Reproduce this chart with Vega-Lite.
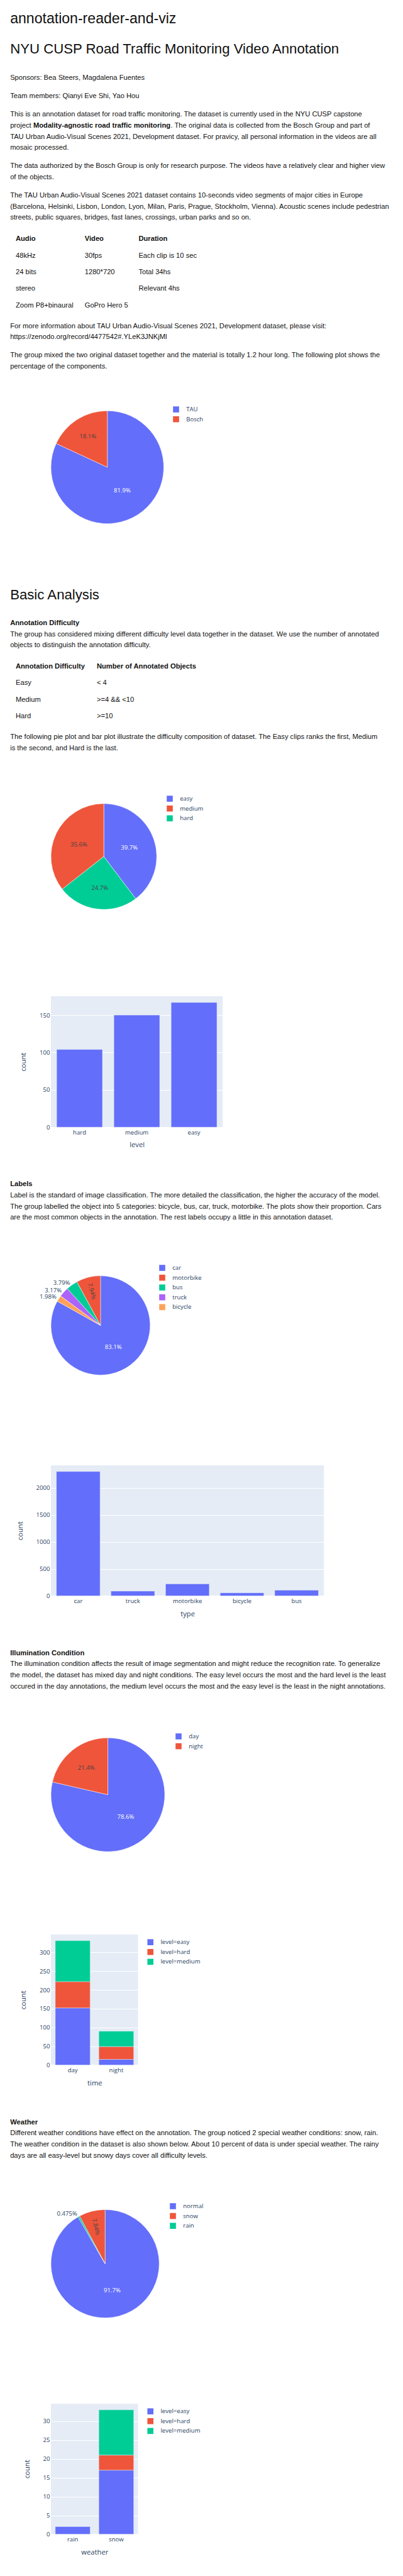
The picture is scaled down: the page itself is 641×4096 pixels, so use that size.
{
"$schema": "https://vega.github.io/schema/vega-lite/v6.json",
"background": "#ffffff",
"padding": {"left": 16.02, "top": 0, "right": 0, "bottom": 0},
"spacing": 0,
"bounds": "flush",
"resolve": {"scale": {"color": "independent", "theta": "independent"}, "legend": {"color": "independent"}},
"config": {
 "view": {"stroke": null},
 "text": {"font": "Liberation Sans", "fontSize": 11.21, "align": "left", "baseline": "alphabetic", "color": "#111111"},
 "axis": {"labelFont": "Open Sans", "labelFontSize": 9.6, "labelColor": "#2a3f5f", "titleFont": "Open Sans", "titleFontSize": 11.2, "titleColor": "#2a3f5f", "titleFontWeight": "normal", "domain": false, "ticks": false, "gridColor": "#ffffff", "gridWidth": 1},
 "legend": {"labelFont": "Open Sans", "labelFontSize": 9.6, "labelColor": "#2a3f5f", "symbolType": "square", "symbolSize": 92, "symbolStrokeWidth": 0, "rowPadding": 5.6, "labelOffset": 11.2, "padding": 0}
},
"vconcat": [
{"width": 540, "height": 111.34,
 "data": {"values": [{"i": 0, "t": "annotation-reader-and-viz"}, {"i": 1, "t": "NYU CUSP Road Traffic Monitoring Video Annotation"}]},
 "encoding": {"y": {"field": "i", "type": "quantitative", "scale": {"domain": [-0.74918, 1.52951], "nice": false, "zero": false, "reverse": true}, "axis": null}},
 "layer": [
  {"transform": [{"filter": "datum.i === 0"}], "mark": {"type": "text", "fontSize": 23.1}, "encoding": {"x": {"datum": -64.88, "type": "quantitative", "scale": {"domain": [0, 540], "nice": false, "zero": false}, "axis": null}, "text": {"field": "t"}}},
  {"transform": [{"filter": "datum.i === 1"}], "mark": {"type": "text", "fontSize": 22.2}, "encoding": {"x": {"datum": -64.88, "type": "quantitative", "scale": {"domain": [0, 540], "nice": false, "zero": false}, "axis": null}, "text": {"field": "t"}}},
  {"data": {"values": [{}]}, "mark": {"type": "rule", "color": "#111111"}, "encoding": {"x": {"datum": -64.88, "type": "quantitative", "scale": {"domain": [0, 540], "nice": false, "zero": false}, "axis": null}, "x2": {"datum": 547.08}, "y": {"datum": 0.23934, "type": "quantitative", "scale": {"domain": [-0.74918, 1.52951], "nice": false, "zero": false, "reverse": true}, "axis": null}}},
  {"data": {"values": [{}]}, "mark": {"type": "rule", "color": "#111111"}, "encoding": {"x": {"datum": -64.88, "type": "quantitative", "scale": {"domain": [0, 540], "nice": false, "zero": false}, "axis": null}, "x2": {"datum": 547.08}, "y": {"datum": 1.23934, "type": "quantitative", "scale": {"domain": [-0.74918, 1.52951], "nice": false, "zero": false, "reverse": true}, "axis": null}}}
 ]},
{"width": 540, "height": 28.84,
 "data": {"values": [{"i": 0, "t": "Sponsors: Bea Steers, Magdalena Fuentes"}]},
 "mark": "text",
 "encoding": {"x": {"datum": -64.88, "type": "quantitative", "scale": {"domain": [0, 540], "nice": false, "zero": false}, "axis": null}, "y": {"field": "i", "type": "quantitative", "scale": {"domain": [-0.83182, 0.80454], "nice": false, "zero": false, "reverse": true}, "axis": null}, "text": {"field": "t"}}},
{"width": 540, "height": 28.04,
 "data": {"values": [{"i": 0, "t": "Team members: Qianyi Eve Shi, Yao Hou"}]},
 "mark": "text",
 "encoding": {"x": {"datum": -64.88, "type": "quantitative", "scale": {"domain": [0, 540], "nice": false, "zero": false}, "axis": null}, "y": {"field": "i", "type": "quantitative", "scale": {"domain": [-0.83182, 0.75909], "nice": false, "zero": false, "reverse": true}, "axis": null}, "text": {"field": "t"}}},
{"width": 540, "height": 81.70,
 "encoding": {"y": {"field": "i", "type": "quantitative", "scale": {"domain": [-0.85973, 3.75565], "nice": false, "zero": false, "reverse": true}, "axis": null}, "text": {"field": "t"}},
 "layer": [
  {"data": {"values": [{"i": 0, "t": "This is an annotation dataset for road traffic monitoring. The dataset is currently used in the NYU CUSP capstone"}, {"i": 1, "t": "project"}, {"i": 2, "t": "TAU Urban Audio-Visual Scenes 2021, Development dataset. For pravicy, all personal information in the videos are all"}, {"i": 3, "t": "mosaic processed."}]},
   "mark": "text", "encoding": {"x": {"datum": -64.88, "type": "quantitative", "scale": {"domain": [0, 540], "nice": false, "zero": false}, "axis": null}}},
  {"data": {"values": [{"i": 1, "t": "Modality-agnostic road traffic monitoring"}]},
   "mark": {"type": "text", "fontWeight": "bold"}, "encoding": {"x": {"datum": -28.12, "type": "quantitative", "scale": {"domain": [0, 540], "nice": false, "zero": false}, "axis": null}}},
  {"data": {"values": [{"i": 1, "t": ". The original data is collected from the Bosch Group and part of"}]},
   "mark": "text", "encoding": {"x": {"datum": 190.5, "type": "quantitative", "scale": {"domain": [0, 540], "nice": false, "zero": false}, "axis": null}}}
 ]},
{"width": 540, "height": 46.46,
 "data": {"values": [{"i": 0, "t": "The data authorized by the Bosch Group is only for research purpose. The videos have a relatively clear and higher view"}, {"i": 1, "t": "of the objects."}]},
 "mark": "text",
 "encoding": {"x": {"datum": -64.88, "type": "quantitative", "scale": {"domain": [0, 540], "nice": false, "zero": false}, "axis": null}, "y": {"field": "i", "type": "quantitative", "scale": {"domain": [-0.87558, 1.79723], "nice": false, "zero": false, "reverse": true}, "axis": null}, "text": {"field": "t"}}},
{"width": 540, "height": 66.48,
 "data": {"values": [{"i": 0, "t": "The TAU Urban Audio-Visual Scenes 2021 dataset contains 10-seconds video segments of major cities in Europe"}, {"i": 1, "t": "(Barcelona, Helsinki, Lisbon, London, Lyon, Milan, Paris, Prague, Stockholm, Vienna). Acoustic scenes include pedestrian"}, {"i": 2, "t": "streets, public squares, bridges, fast lanes, crossings, urban parks and so on."}]},
 "mark": "text",
 "encoding": {"x": {"datum": -64.88, "type": "quantitative", "scale": {"domain": [0, 540], "nice": false, "zero": false}, "axis": null}, "y": {"field": "i", "type": "quantitative", "scale": {"domain": [-0.86957, 2.92906], "nice": false, "zero": false, "reverse": true}, "axis": null}, "text": {"field": "t"}}},
{"width": 540, "height": 140.98,
 "resolve": {"scale": {"x": "independent"}},
 "data": {"values": [
  {"r": 0, "c": 0, "t": "Audio"}, {"r": 0, "c": 1, "t": "Video"}, {"r": 0, "c": 2, "t": "Duration"},
  {"r": 1, "c": 0, "t": "48kHz"}, {"r": 1, "c": 1, "t": "30fps"}, {"r": 1, "c": 2, "t": "Each clip is 10 sec"},
  {"r": 2, "c": 0, "t": "24 bits"}, {"r": 2, "c": 1, "t": "1280*720"}, {"r": 2, "c": 2, "t": "Total 34hs"},
  {"r": 3, "c": 0, "t": "stereo"}, {"r": 3, "c": 2, "t": "Relevant 4hs"},
  {"r": 4, "c": 0, "t": "Zoom P8+binaural"}, {"r": 4, "c": 1, "t": "GoPro Hero 5"}]},
 "encoding": {"y": {"field": "r", "type": "quantitative", "scale": {"domain": [-0.64545, 4.68788], "nice": false, "zero": false, "reverse": true}, "axis": null}},
 "layer": [
  {"transform": [{"filter": "datum.r === 0"}], "mark": {"type": "text", "fontWeight": "bold"},
   "encoding": {"x": {"field": "c", "type": "quantitative", "scale": {"domain": [0, 1, 2], "range": [-56.07, 53.67, 139.38], "nice": false, "zero": false}, "axis": null}, "text": {"field": "t"}}},
  {"transform": [{"filter": "datum.r > 0"}], "mark": "text",
   "encoding": {"x": {"field": "c", "type": "quantitative", "scale": {"domain": [0, 1, 2], "range": [-56.07, 53.67, 139.38], "nice": false, "zero": false}, "axis": null}, "text": {"field": "t"}}},
  {"data": {"values": [{}]}, "mark": {"type": "rule", "color": "#111111"}, "encoding": {"x": {"datum": -64.88, "type": "quantitative", "scale": {"domain": [0, 540], "nice": false, "zero": false}, "axis": null}, "x2": {"datum": 239.5}, "y": {"datum": 0.3333, "type": "quantitative", "scale": {"domain": [-0.64545, 4.68788], "nice": false, "zero": false, "reverse": true}, "axis": null}}},
  {"data": {"values": [{}]}, "mark": {"type": "rule", "color": "#111111"}, "encoding": {"x": {"datum": -64.88, "type": "quantitative", "scale": {"domain": [0, 540], "nice": false, "zero": false}, "axis": null}, "x2": {"datum": 239.5}, "y": {"datum": 1.3333, "type": "quantitative", "scale": {"domain": [-0.64545, 4.68788], "nice": false, "zero": false, "reverse": true}, "axis": null}}},
  {"data": {"values": [{}]}, "mark": {"type": "rule", "color": "#111111"}, "encoding": {"x": {"datum": -64.88, "type": "quantitative", "scale": {"domain": [0, 540], "nice": false, "zero": false}, "axis": null}, "x2": {"datum": 239.5}, "y": {"datum": 2.3333, "type": "quantitative", "scale": {"domain": [-0.64545, 4.68788], "nice": false, "zero": false, "reverse": true}, "axis": null}}},
  {"data": {"values": [{}]}, "mark": {"type": "rule", "color": "#111111"}, "encoding": {"x": {"datum": -64.88, "type": "quantitative", "scale": {"domain": [0, 540], "nice": false, "zero": false}, "axis": null}, "x2": {"datum": 239.5}, "y": {"datum": 3.3333, "type": "quantitative", "scale": {"domain": [-0.64545, 4.68788], "nice": false, "zero": false, "reverse": true}, "axis": null}}}
 ]},
{"width": 540, "height": 45.66,
 "data": {"values": [{"i": 0, "t": "For more information about TAU Urban Audio-Visual Scenes 2021, Development dataset, please visit:"}, {"i": 1, "t": "https://zenodo.org/record/4477542#.YLeK3JNKjMl"}]},
 "mark": "text",
 "encoding": {"x": {"datum": -64.88, "type": "quantitative", "scale": {"domain": [0, 540], "nice": false, "zero": false}, "axis": null}, "y": {"field": "i", "type": "quantitative", "scale": {"domain": [-0.86175, 1.76498], "nice": false, "zero": false, "reverse": true}, "axis": null}, "text": {"field": "t"}}},
{"width": 540, "height": 92.92,
 "data": {"values": [{"i": 0, "t": "The group mixed the two original dataset together and the material is totally 1.2 hour long. The following plot shows the"}, {"i": 1, "t": "percentage of the components."}]},
 "mark": "text",
 "encoding": {"x": {"datum": -64.88, "type": "quantitative", "scale": {"domain": [0, 540], "nice": false, "zero": false}, "axis": null}, "y": {"field": "i", "type": "quantitative", "scale": {"domain": [-0.8894, 4.45622], "nice": false, "zero": false, "reverse": true}, "axis": null}, "text": {"field": "t"}}},
{"width": 179.42, "height": 193.84,
 "data": {"values": [{"k": "TAU", "v": 0.819, "o": 1}, {"k": "Bosch", "v": 0.181, "o": 2}]},
 "encoding": {"theta": {"field": "v", "type": "quantitative", "stack": true}, "order": {"field": "o", "type": "quantitative"}},
 "layer": [
  {"mark": {"type": "arc", "outerRadius": 89.71, "stroke": "#ffffff", "strokeWidth": 0.5},
   "encoding": {"color": {"field": "k", "type": "nominal", "scale": {"domain": ["TAU", "Bosch"], "range": ["#636efa", "#EF553B"]}, "legend": {"title": null, "orient": "right", "offset": 14.4}}}},
  {"mark": {"type": "text", "radius": 44.0, "font": "Open Sans", "fontSize": 9.6, "align": "center", "baseline": "middle", "color": "#ffffff"},
   "encoding": {"text": {"field": "v", "format": ".3p", "condition": {"test": "datum.k !== 'TAU'", "value": ""}}}},
  {"mark": {"type": "text", "radius": 57.7, "font": "Open Sans", "fontSize": 9.6, "align": "center", "baseline": "middle", "color": "#444444"},
   "encoding": {"text": {"field": "v", "format": ".3p", "condition": {"test": "datum.k !== 'Bosch'", "value": ""}}}}
 ]},
{"width": 10, "height": 88.11, "data": {"values": [{}]}, "mark": "text", "encoding": {"text": {"value": ""}}},
{"width": 540, "height": 49.66,
 "data": {"values": [{"i": 0, "t": "Basic Analysis"}]},
 "encoding": {"y": {"field": "i", "type": "quantitative", "scale": {"domain": [-0.99, 1.07667], "nice": false, "zero": false, "reverse": true}, "axis": null}},
 "layer": [
  {"mark": {"type": "text", "fontSize": 22.2}, "encoding": {"x": {"datum": -64.88, "type": "quantitative", "scale": {"domain": [0, 540], "nice": false, "zero": false}, "axis": null}, "text": {"field": "t"}}},
  {"data": {"values": [{}]}, "mark": {"type": "rule", "color": "#111111"}, "encoding": {"x": {"datum": -64.88, "type": "quantitative", "scale": {"domain": [0, 540], "nice": false, "zero": false}, "axis": null}, "x2": {"datum": 547.08}, "y": {"datum": 0.52, "type": "quantitative", "scale": {"domain": [-0.99, 1.07667], "nice": false, "zero": false, "reverse": true}, "axis": null}}}
 ]},
{"width": 540, "height": 66.48,
 "data": {"values": [{"i": 0, "t": "Annotation Difficulty"}, {"i": 1, "t": "The group has considered mixing different difficulty level data together in the dataset. We use the number of annotated"}, {"i": 2, "t": "objects to distinguish the annotation difficulty."}]},
 "encoding": {"x": {"datum": -64.88, "type": "quantitative", "scale": {"domain": [0, 540], "nice": false, "zero": false}, "axis": null}, "y": {"field": "i", "type": "quantitative", "scale": {"domain": [-0.86041, 2.93822], "nice": false, "zero": false, "reverse": true}, "axis": null}, "text": {"field": "t"}},
 "layer": [
  {"transform": [{"filter": "datum.i === 0"}], "mark": {"type": "text", "fontWeight": "bold"}},
  {"transform": [{"filter": "datum.i > 0"}], "mark": "text"}
 ]},
{"width": 540, "height": 114.54,
 "resolve": {"scale": {"x": "independent"}},
 "data": {"values": [
  {"r": 0, "c": 0, "t": "Annotation Difficulty"}, {"r": 0, "c": 1, "t": "Number of Annotated Objects"},
  {"r": 1, "c": 0, "t": "Easy"}, {"r": 1, "c": 1, "t": "< 4"},
  {"r": 2, "c": 0, "t": "Medium"}, {"r": 2, "c": 1, "t": ">=4 && <10"},
  {"r": 3, "c": 0, "t": "Hard"}, {"r": 3, "c": 1, "t": ">=10"}]},
 "encoding": {"y": {"field": "r", "type": "quantitative", "scale": {"domain": [-0.64545, 3.68788], "nice": false, "zero": false, "reverse": true}, "axis": null}},
 "layer": [
  {"transform": [{"filter": "datum.r === 0"}], "mark": {"type": "text", "fontWeight": "bold"},
   "encoding": {"x": {"field": "c", "type": "quantitative", "scale": {"domain": [0, 1], "range": [-56.07, 72.89], "nice": false, "zero": false}, "axis": null}, "text": {"field": "t"}}},
  {"transform": [{"filter": "datum.r > 0"}], "mark": "text",
   "encoding": {"x": {"field": "c", "type": "quantitative", "scale": {"domain": [0, 1], "range": [-56.07, 72.89], "nice": false, "zero": false}, "axis": null}, "text": {"field": "t"}}},
  {"data": {"values": [{}]}, "mark": {"type": "rule", "color": "#111111"}, "encoding": {"x": {"datum": -64.88, "type": "quantitative", "scale": {"domain": [0, 540], "nice": false, "zero": false}, "axis": null}, "x2": {"datum": 243.51}, "y": {"datum": 0.3333, "type": "quantitative", "scale": {"domain": [-0.64545, 3.68788], "nice": false, "zero": false, "reverse": true}, "axis": null}}},
  {"data": {"values": [{}]}, "mark": {"type": "rule", "color": "#111111"}, "encoding": {"x": {"datum": -64.88, "type": "quantitative", "scale": {"domain": [0, 540], "nice": false, "zero": false}, "axis": null}, "x2": {"datum": 243.51}, "y": {"datum": 1.3333, "type": "quantitative", "scale": {"domain": [-0.64545, 3.68788], "nice": false, "zero": false, "reverse": true}, "axis": null}}},
  {"data": {"values": [{}]}, "mark": {"type": "rule", "color": "#111111"}, "encoding": {"x": {"datum": -64.88, "type": "quantitative", "scale": {"domain": [0, 540], "nice": false, "zero": false}, "axis": null}, "x2": {"datum": 243.51}, "y": {"datum": 2.3333, "type": "quantitative", "scale": {"domain": [-0.64545, 3.68788], "nice": false, "zero": false, "reverse": true}, "axis": null}}}
 ]},
{"width": 540, "height": 103.33,
 "data": {"values": [{"i": 0, "t": "The following pie plot and bar plot illustrate the difficulty composition of dataset. The Easy clips ranks the first, Medium"}, {"i": 1, "t": "is the second, and Hard is the last."}]},
 "mark": "text",
 "encoding": {"x": {"datum": -64.88, "type": "quantitative", "scale": {"domain": [0, 540], "nice": false, "zero": false}, "axis": null}, "y": {"field": "i", "type": "quantitative", "scale": {"domain": [-0.80455, 5.05909], "nice": false, "zero": false, "reverse": true}, "axis": null}, "text": {"field": "t"}}},
{"width": 168.21, "height": 193.84,
 "data": {"values": [{"k": "easy", "v": 0.397, "o": 1}, {"k": "medium", "v": 0.356, "o": 3}, {"k": "hard", "v": 0.247, "o": 2}]},
 "encoding": {"theta": {"field": "v", "type": "quantitative", "stack": true}, "order": {"field": "o", "type": "quantitative"}},
 "layer": [
  {"mark": {"type": "arc", "outerRadius": 84.11, "stroke": "#ffffff", "strokeWidth": 0.5},
   "encoding": {"color": {"field": "k", "type": "nominal", "scale": {"domain": ["easy", "medium", "hard"], "range": ["#636efa", "#EF553B", "#00cc96"]}, "legend": {"title": null, "orient": "right", "offset": 15.2}}}},
  {"mark": {"type": "text", "radius": 42.9, "font": "Open Sans", "fontSize": 9.6, "align": "center", "baseline": "middle", "color": "#ffffff"},
   "encoding": {"text": {"field": "v", "format": ".3p", "condition": {"test": "datum.k !== 'easy'", "value": ""}}}},
  {"mark": {"type": "text", "radius": 44.1, "font": "Open Sans", "fontSize": 9.6, "align": "center", "baseline": "middle", "color": "#444444"},
   "encoding": {"text": {"field": "v", "format": ".3p", "condition": {"test": "datum.k !== 'medium'", "value": ""}}}},
  {"mark": {"type": "text", "radius": 50.0, "font": "Open Sans", "fontSize": 9.6, "align": "center", "baseline": "middle", "color": "#444444"},
   "encoding": {"text": {"field": "v", "format": ".3p", "condition": {"test": "datum.k !== 'hard'", "value": ""}}}}
 ]},
{"width": 10, "height": 124.16, "data": {"values": [{}]}, "mark": "text", "encoding": {"text": {"value": ""}}},
{"width": 273.14, "height": 208.26, "view": {"fill": "#E5ECF6", "stroke": null},
 "data": {"values": [{"level": "hard", "count": 104}, {"level": "medium", "count": 150}, {"level": "easy", "count": 167}]},
 "mark": {"type": "bar", "color": "#636efa", "stroke": "#E5ECF6", "strokeWidth": 0.5},
 "encoding": {
  "x": {"field": "level", "type": "nominal", "sort": ["hard", "medium", "easy"], "scale": {"paddingInner": 0.2, "paddingOuter": 0.1}, "axis": {"title": "level", "labelAngle": 0, "grid": false, "labelPadding": 3, "titlePadding": 10}},
  "y": {"field": "count", "type": "quantitative", "scale": {"domain": [0, 175.35], "nice": false}, "axis": {"title": "count", "values": [0, 50, 100, 150], "format": "d", "labelPadding": 2, "titlePadding": 20}}
 }},
{"width": 10, "height": 78.5, "data": {"values": [{}]}, "mark": "text", "encoding": {"text": {"value": ""}}},
{"width": 540, "height": 138.57,
 "data": {"values": [{"i": 0, "t": "Labels"}, {"i": 1, "t": "Label is the standard of image classification. The more detailed the classification, the higher the accuracy of the model."}, {"i": 2, "t": "The group labelled the object into 5 categories: bicycle, bus, car, truck, motorbike. The plots show their proportion. Cars"}, {"i": 3, "t": "are the most common objects in the annotation. The rest labels occupy a little in this annotation dataset."}]},
 "encoding": {"x": {"datum": -64.88, "type": "quantitative", "scale": {"domain": [0, 540], "nice": false, "zero": false}, "axis": null}, "y": {"field": "i", "type": "quantitative", "scale": {"domain": [-0.82192, 7.07762], "nice": false, "zero": false, "reverse": true}, "axis": null}, "text": {"field": "t"}},
 "layer": [
  {"transform": [{"filter": "datum.i === 0"}], "mark": {"type": "text", "fontWeight": "bold"}},
  {"transform": [{"filter": "datum.i > 0"}], "mark": "text"}
 ]},
{"width": 157.8, "height": 193.04,
 "data": {"values": [{"k": "car", "v": 0.831, "o": 1}, {"k": "motorbike", "v": 0.0794, "o": 5}, {"k": "bus", "v": 0.0379, "o": 4}, {"k": "truck", "v": 0.0317, "o": 3}, {"k": "bicycle", "v": 0.0198, "o": 2}]},
 "encoding": {"theta": {"field": "v", "type": "quantitative", "stack": true}, "order": {"field": "o", "type": "quantitative"}},
 "layer": [
  {"mark": {"type": "arc", "outerRadius": 78.9, "stroke": "#ffffff", "strokeWidth": 0.5},
   "encoding": {"color": {"field": "k", "type": "nominal", "scale": {"domain": ["car", "motorbike", "bus", "truck", "bicycle"], "range": ["#636efa", "#EF553B", "#00cc96", "#ab63fa", "#FFA15A"]}, "legend": {"title": null, "orient": "right", "offset": 14.4}}}},
  {"mark": {"type": "text", "radius": 40.1, "font": "Open Sans", "fontSize": 9.6, "align": "center", "baseline": "middle", "color": "#ffffff"},
   "encoding": {"text": {"field": "v", "format": ".3p", "condition": {"test": "datum.k !== 'car'", "value": ""}}}},
  {"mark": {"type": "text", "radius": 56.0, "angle": 76, "font": "Open Sans", "fontSize": 9.6, "align": "center", "baseline": "middle", "color": "#444444"},
   "encoding": {"text": {"field": "v", "format": ".3p", "condition": {"test": "datum.k !== 'motorbike'", "value": ""}}}},
  {"mark": {"type": "text", "radius": 83.2, "font": "Open Sans", "fontSize": 9.6, "align": "right", "baseline": "middle", "color": "#2a3f5f"},
   "encoding": {"text": {"field": "v", "format": ".3p", "condition": {"test": "datum.k === 'car' || datum.k === 'motorbike'", "value": ""}}}}
 ]},
{"width": 10, "height": 124.96, "data": {"values": [{}]}, "mark": "text", "encoding": {"text": {"value": ""}}},
{"width": 434.14, "height": 207.46, "view": {"fill": "#E5ECF6", "stroke": null},
 "data": {"values": [{"type": "car", "count": 2304}, {"type": "truck", "count": 88}, {"type": "motorbike", "count": 220}, {"type": "bicycle", "count": 55}, {"type": "bus", "count": 105}]},
 "mark": {"type": "bar", "color": "#636efa", "stroke": "#E5ECF6", "strokeWidth": 0.5},
 "encoding": {
  "x": {"field": "type", "type": "nominal", "sort": ["car", "truck", "motorbike", "bicycle", "bus"], "scale": {"paddingInner": 0.2, "paddingOuter": 0.1}, "axis": {"title": "type", "labelAngle": 0, "grid": false, "labelPadding": 3, "titlePadding": 10}},
  "y": {"field": "count", "type": "quantitative", "scale": {"domain": [0, 2419], "nice": false}, "axis": {"title": "count", "values": [0, 500, 1000, 1500, 2000], "format": "d", "labelPadding": 2, "titlePadding": 20}}
 }},
{"width": 10, "height": 78.5, "data": {"values": [{}]}, "mark": "text", "encoding": {"text": {"value": ""}}},
{"width": 540, "height": 138.57,
 "data": {"values": [{"i": 0, "t": "Illumination Condition"}, {"i": 1, "t": "The illumination condition affects the result of image segmentation and might reduce the recognition rate. To generalize"}, {"i": 2, "t": "the model, the dataset has mixed day and night conditions. The easy level occurs the most and the hard level is the least"}, {"i": 3, "t": "occured in the day annotations, the medium level occurs the most and the easy level is the least in the night annotations."}]},
 "encoding": {"x": {"datum": -64.88, "type": "quantitative", "scale": {"domain": [0, 540], "nice": false, "zero": false}, "axis": null}, "y": {"field": "i", "type": "quantitative", "scale": {"domain": [-0.84091, 7.02273], "nice": false, "zero": false, "reverse": true}, "axis": null}, "text": {"field": "t"}},
 "layer": [
  {"transform": [{"filter": "datum.i === 0"}], "mark": {"type": "text", "fontWeight": "bold"}},
  {"transform": [{"filter": "datum.i > 0"}], "mark": "text"}
 ]},
{"width": 181.03, "height": 195.44,
 "data": {"values": [{"k": "day", "v": 0.786, "o": 1}, {"k": "night", "v": 0.214, "o": 2}]},
 "encoding": {"theta": {"field": "v", "type": "quantitative", "stack": true}, "order": {"field": "o", "type": "quantitative"}},
 "layer": [
  {"mark": {"type": "arc", "outerRadius": 90.51, "stroke": "#ffffff", "strokeWidth": 0.5},
   "encoding": {"color": {"field": "k", "type": "nominal", "scale": {"domain": ["day", "night"], "range": ["#636efa", "#EF553B"]}, "legend": {"title": null, "orient": "right", "offset": 16.0}}}},
  {"mark": {"type": "text", "radius": 45.6, "font": "Open Sans", "fontSize": 9.6, "align": "center", "baseline": "middle", "color": "#ffffff"},
   "encoding": {"text": {"field": "v", "format": ".3p", "condition": {"test": "datum.k !== 'day'", "value": ""}}}},
  {"mark": {"type": "text", "radius": 55.2, "font": "Open Sans", "fontSize": 9.6, "align": "center", "baseline": "middle", "color": "#444444"},
   "encoding": {"text": {"field": "v", "format": ".3p", "condition": {"test": "datum.k !== 'night'", "value": ""}}}}
 ]},
{"width": 10, "height": 123.35, "data": {"values": [{}]}, "mark": "text", "encoding": {"text": {"value": ""}}},
{"width": 138.57, "height": 207.46, "view": {"fill": "#E5ECF6", "stroke": null},
 "data": {"values": [{"time": "day", "level": "easy", "count": 152}, {"time": "day", "level": "hard", "count": 70}, {"time": "day", "level": "medium", "count": 109}, {"time": "night", "level": "easy", "count": 15}, {"time": "night", "level": "hard", "count": 34}, {"time": "night", "level": "medium", "count": 41}]},
 "mark": {"type": "bar", "stroke": "#E5ECF6", "strokeWidth": 0.5},
 "encoding": {
  "x": {"field": "time", "type": "nominal", "sort": ["day", "night"], "scale": {"paddingInner": 0.2, "paddingOuter": 0.1}, "axis": {"title": "time", "labelAngle": 0, "grid": false, "labelPadding": 3, "titlePadding": 10}},
  "y": {"field": "count", "type": "quantitative", "stack": "zero", "scale": {"domain": [0, 347.55], "nice": false}, "axis": {"title": "count", "values": [0, 50, 100, 150, 200, 250, 300], "format": "d", "labelPadding": 2, "titlePadding": 20}},
  "color": {"field": "level", "type": "nominal", "scale": {"domain": ["easy", "hard", "medium"], "range": ["#636efa", "#EF553B", "#00cc96"]}, "legend": {"title": null, "orient": "right", "offset": 7.2, "padding": 7.2, "labelExpr": "'level=' + datum.label"}},
  "order": {"field": "level", "type": "ordinal", "sort": "ascending"}
 }},
{"width": 10, "height": 78.5, "data": {"values": [{}]}, "mark": "text", "encoding": {"text": {"value": ""}}},
{"width": 540, "height": 139.37,
 "data": {"values": [{"i": 0, "t": "Weather"}, {"i": 1, "t": "Different weather conditions have effect on the annotation. The group noticed 2 special weather conditions: snow, rain."}, {"i": 2, "t": "The weather condition in the dataset is also shown below. About 10 percent of data is under special weather. The rainy"}, {"i": 3, "t": "days are all easy-level but snowy days cover all difficulty levels."}]},
 "encoding": {"x": {"datum": -64.88, "type": "quantitative", "scale": {"domain": [0, 540], "nice": false, "zero": false}, "axis": null}, "y": {"field": "i", "type": "quantitative", "scale": {"domain": [-0.84091, 7.06818], "nice": false, "zero": false, "reverse": true}, "axis": null}, "text": {"field": "t"}},
 "layer": [
  {"transform": [{"filter": "datum.i === 0"}], "mark": {"type": "text", "fontWeight": "bold"}},
  {"transform": [{"filter": "datum.i > 0"}], "mark": "text"}
 ]},
{"width": 172.22, "height": 193.04,
 "data": {"values": [{"k": "normal", "v": 0.917, "o": 1}, {"k": "snow", "v": 0.0784, "o": 3}, {"k": "rain", "v": 0.00475, "o": 2}]},
 "encoding": {"theta": {"field": "v", "type": "quantitative", "stack": true}, "order": {"field": "o", "type": "quantitative"}},
 "layer": [
  {"mark": {"type": "arc", "outerRadius": 86.11, "stroke": "#ffffff", "strokeWidth": 0.5},
   "encoding": {"color": {"field": "k", "type": "nominal", "scale": {"domain": ["normal", "snow", "rain"], "range": ["#636efa", "#EF553B", "#00cc96"]}, "legend": {"title": null, "orient": "right", "offset": 16.0}}}},
  {"mark": {"type": "text", "radius": 43.9, "font": "Open Sans", "fontSize": 9.6, "align": "center", "baseline": "middle", "color": "#ffffff"},
   "encoding": {"text": {"field": "v", "format": ".3p", "condition": {"test": "datum.k !== 'normal'", "value": ""}}}},
  {"mark": {"type": "text", "radius": 60.6, "angle": 76, "font": "Open Sans", "fontSize": 9.6, "align": "center", "baseline": "middle", "color": "#444444"},
   "encoding": {"text": {"field": "v", "format": ".3p", "condition": {"test": "datum.k !== 'snow'", "value": ""}}}},
  {"mark": {"type": "text", "radius": 91.2, "font": "Open Sans", "fontSize": 9.6, "align": "right", "baseline": "middle", "color": "#2a3f5f"},
   "encoding": {"text": {"field": "v", "format": ".3p", "condition": {"test": "datum.k !== 'rain'", "value": ""}}}}
 ]},
{"width": 10, "height": 124.96, "data": {"values": [{}]}, "mark": "text", "encoding": {"text": {"value": ""}}},
{"width": 138.57, "height": 207.46, "view": {"fill": "#E5ECF6", "stroke": null},
 "data": {"values": [{"weather": "rain", "level": "easy", "count": 2}, {"weather": "snow", "level": "easy", "count": 17}, {"weather": "snow", "level": "hard", "count": 4}, {"weather": "snow", "level": "medium", "count": 12}]},
 "mark": {"type": "bar", "stroke": "#E5ECF6", "strokeWidth": 0.5},
 "encoding": {
  "x": {"field": "weather", "type": "nominal", "sort": ["rain", "snow"], "scale": {"paddingInner": 0.2, "paddingOuter": 0.1}, "axis": {"title": "weather", "labelAngle": 0, "grid": false, "labelPadding": 3, "titlePadding": 10}},
  "y": {"field": "count", "type": "quantitative", "stack": "zero", "scale": {"domain": [0, 34.65], "nice": false}, "axis": {"title": "count", "values": [0, 5, 10, 15, 20, 25, 30], "format": "d", "labelPadding": 2, "titlePadding": 20}},
  "color": {"field": "level", "type": "nominal", "scale": {"domain": ["easy", "hard", "medium"], "range": ["#636efa", "#EF553B", "#00cc96"]}, "legend": {"title": null, "orient": "right", "offset": 7.2, "padding": 7.2, "labelExpr": "'level=' + datum.label"}},
  "order": {"field": "level", "type": "ordinal", "sort": "ascending"}
 }},
{"width": 10, "height": 80.9, "data": {"values": [{}]}, "mark": "text", "encoding": {"text": {"value": ""}}}
]
}
